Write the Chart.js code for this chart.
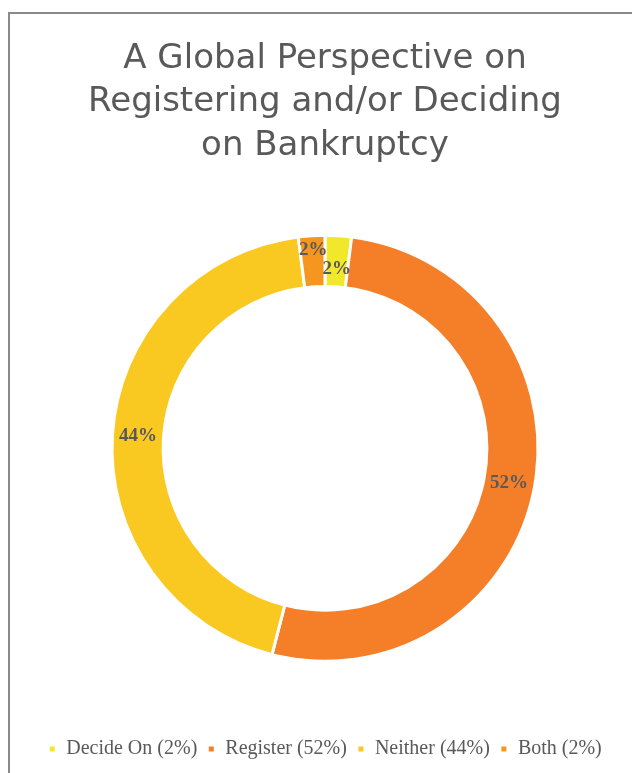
<!DOCTYPE html>
<html>
<head>
<meta charset="utf-8">
<script src="https://cdn.jsdelivr.net/npm/chart.js@4.4.0/dist/chart.umd.min.js"></script>
<style>
  body { margin: 0; background: #fff; overflow: hidden; }
  #wrap { position: relative; width: 632px; height: 773px; }
  #frame { position: absolute; left: 8px; top: 12px; width: 700px; height: 800px; border: 2px solid #8a8a8a; }
  #myChart { position: absolute; left: 0; top: 0; }
</style>
</head>
<body>
<div id="wrap">
  <div id="frame"></div>
  <canvas id="myChart" width="632" height="773"></canvas>
</div>
<script>
// chart data
var categories = ["Decide On", "Register", "Neither", "Both"];
var shares = [2, 52, 44, 2];
var sliceColors = ["#F2E82B", "#F47F28", "#F9C922", "#F6961E"];
var titleLines = ["A Global Perspective on", "Registering and/or Deciding", "on Bankruptcy"];

// legend text is "Name (x%)"
var legendNames = [];
for (var i = 0; i < categories.length; i++){
  legendNames.push(categories[i] + " (" + shares[i] + "%)");
}

var textGrey = "#595959";

// draws the % label on every slice, small neighbours get pushed apart
var sliceLabels = {
  id: 'sliceLabels',
  afterDatasetsDraw: function(chart){
    var ctx = chart.ctx;
    var meta = chart.getDatasetMeta(0);
    var total = 0;
    for (var i = 0; i < shares.length; i++){ total += shares[i]; }
    ctx.save();
    ctx.font = "bold 19px 'Liberation Serif', serif";
    ctx.fillStyle = textGrey;
    ctx.textAlign = "center";
    ctx.textBaseline = "middle";
    var spots = [];
    meta.data.forEach(function(arc, i){
      var p = arc.getProps(['x', 'y', 'startAngle', 'endAngle', 'innerRadius', 'outerRadius'], true);
      var a = (p.startAngle + p.endAngle) / 2;
      var r = (p.innerRadius + p.outerRadius) / 2;
      spots.push({x: p.x + Math.cos(a) * r, y: p.y + Math.sin(a) * r, text: Math.round(shares[i] / total * 100) + "%"});
    });
    // small slices at the top overlap, move them up / down
    for (var i = 0; i < spots.length; i++){
      for (var j = i + 1; j < spots.length; j++){
        var w = ctx.measureText(spots[i].text).width;
        if (Math.abs(spots[i].x - spots[j].x) < w && Math.abs(spots[i].y - spots[j].y) < 18){
          var hi = spots[i].x < spots[j].x ? spots[i] : spots[j];
          var lo = spots[i].x < spots[j].x ? spots[j] : spots[i];
          hi.y -= 11;
          lo.y += 8;
        }
      }
    }
    spots.forEach(function(s){ ctx.fillText(s.text, s.x, s.y); });
    ctx.restore();
  }
};

var ctx = document.getElementById('myChart').getContext('2d');
var myChart = new Chart(ctx, {
  type: 'doughnut',
  data: {
    labels: legendNames,
    datasets: [{
      data: shares,
      backgroundColor: sliceColors,
      borderColor: "#ffffff",
      borderWidth: 3
    }]
  },
  options: {
    responsive: false,
    animation: false,
    radius: 213,
    cutout: '76%',
    layout: { padding: { left: 18, right: 0, top: 0, bottom: 4 } },
    plugins: {
      title: {
        display: true,
        text: titleLines,
        color: textGrey,
        font: { family: "'DejaVu Sans', sans-serif", size: 34, weight: 'normal', lineHeight: 1.28 },
        padding: { top: 37, bottom: 0 }
      },
      legend: {
        position: 'bottom',
        labels: {
          color: textGrey,
          font: { family: "'Liberation Serif', serif", size: 20 },
          boxWidth: 8,
          boxHeight: 8,
          padding: 10
        }
      },
      tooltip: { enabled: false }
    }
  },
  plugins: [sliceLabels]
});
</script>
</body>
</html>
